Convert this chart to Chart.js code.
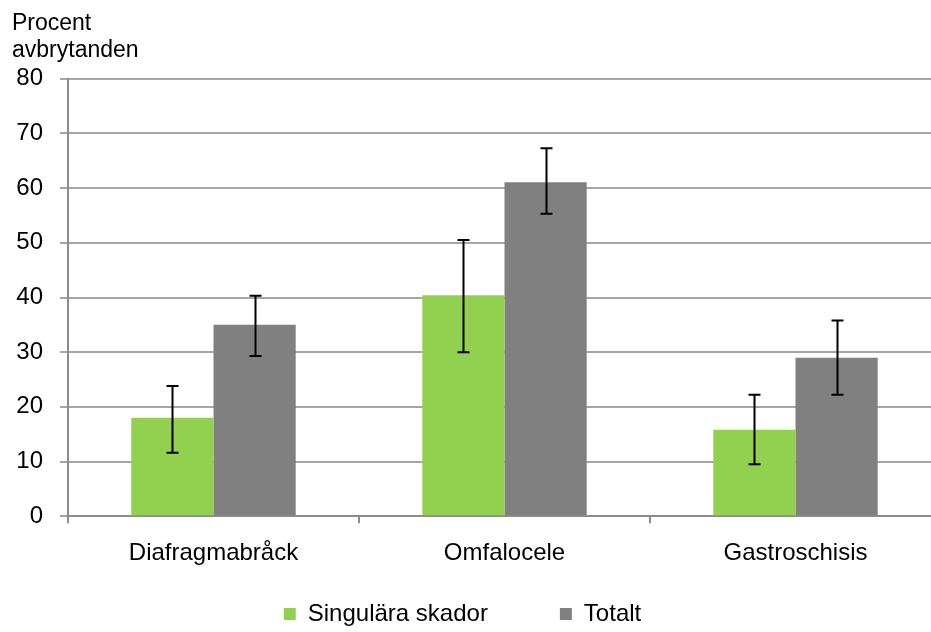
<!DOCTYPE html>
<html>
<head>
<meta charset="utf-8">
<script src="https://cdn.jsdelivr.net/npm/chart.js@4.4.1/dist/chart.umd.min.js"></script>
<style>
  html, body { margin: 0; padding: 0; background: #fff; }
  #wrap { width: 931px; height: 632px; }
</style>
</head>
<body>
<div id="wrap"><canvas id="chart"></canvas></div>
<script>
const categories = ['Diafragmabråck', 'Omfalocele', 'Gastroschisis'];
const seriesNames = ['Singulära skador', 'Totalt'];

const singular = [18, 40.4, 15.8];
const singularLow = [11.6, 30, 9.5];
const singularHigh = [23.8, 50.5, 22.2];

const total = [35, 61.1, 29];
const totalLow = [29.3, 55.3, 22.2];
const totalHigh = [40.3, 67.3, 35.8];

const yTicks = [0, 10, 20, 30, 40, 50, 60, 70, 80];

const font = 'Liberation Sans, Arial, sans-serif';
const legendGap = 72;

// draws the confidence intervals on top of the bars
const errorBars = {
    id: 'errorBars',
    afterDatasetsDraw(chart) {
        const ctx = chart.ctx;
        const y = chart.scales.y;
        ctx.save();
        ctx.strokeStyle = '#000';
        ctx.lineWidth = 2;
        chart.data.datasets.forEach((ds, di) => {
            const meta = chart.getDatasetMeta(di);
            meta.data.forEach((bar, i) => {
                const top = y.getPixelForValue(ds.errHigh[i]);
                const bottom = y.getPixelForValue(ds.errLow[i]);
                const x = Math.round(bar.x) + 0.5;
                ctx.beginPath();
                ctx.moveTo(x, top);
                ctx.lineTo(x, bottom);
                ctx.moveTo(x - 6, top);
                ctx.lineTo(x + 6, top);
                ctx.moveTo(x - 6, bottom);
                ctx.lineTo(x + 6, bottom);
                ctx.stroke();
            });
        });
        ctx.restore();
    }
};

// wide gap between legend items without the tall box that padding gives
const legendSpacing = {
    id: 'legendSpacing',
    afterInit(chart) {
        const legend = chart.legend;
        const fit = legend.fit;
        legend.fit = function () {
            fit.call(this);
            this.height = 48;
        };
        const draw = legend.draw;
        legend.draw = function (area) {
            const t = this.top, l = this.left, r = this.right;
            this.top = t - 54;
            this.left = l - 9;
            this.right = r - 9;
            draw.call(this, area);
            this.top = t;
            this.left = l;
            this.right = r;
        };
    }
};

// the plot area runs a little past the right edge of the picture
const plotOverflow = {
    id: 'plotOverflow',
    afterLayout(chart) {
        const extra = 10;
        const x = chart.scales.x;
        chart.chartArea.right += extra;
        chart.chartArea.width += extra;
        x.right += extra;
        x.width += extra;
        x.configure();
    }
};

new Chart(document.getElementById('chart'), {
    type: 'bar',
    data: {
        labels: categories,
        datasets: [
            {
                label: seriesNames[0],
                data: singular,
                errLow: singularLow,
                errHigh: singularHigh,
                backgroundColor: '#92D050',
                categoryPercentage: 0.565,
                barPercentage: 1
            },
            {
                label: seriesNames[1],
                data: total,
                errLow: totalLow,
                errHigh: totalHigh,
                backgroundColor: '#808080',
                categoryPercentage: 0.565,
                barPercentage: 1
            }
        ]
    },
    options: {
        responsive: true,
        maintainAspectRatio: false,
        animation: false,
        layout: { padding: { left: 12, right: 0, top: 0, bottom: 0 } },
        plugins: {
            tooltip: { enabled: false },
            title: {
                display: true,
                text: ['Procent', 'avbrytanden'],
                align: 'start',
                color: '#000',
                font: { family: font, size: 23, weight: 'normal', lineHeight: 1.17 },
                padding: { top: 10, bottom: 15 }
            },
            legend: {
                position: 'bottom',
                labels: {
                    color: '#000',
                    font: { family: font, size: 24 },
                    boxWidth: 12,
                    boxHeight: 12,
                    padding: legendGap
                }
            }
        },
        scales: {
            x: {
                grid: {
                    display: true,
                    drawOnChartArea: false,
                    drawTicks: true,
                    tickLength: 7,
                    color: '#8c8c8c',
                    lineWidth: 2
                },
                border: { display: true, color: '#8c8c8c', width: 2 },
                ticks: {
                    color: '#000',
                    font: { family: font, size: 24 },
                    padding: 16
                }
            },
            y: {
                min: 0,
                max: 80,
                afterFit(scale) { scale.width = 56; },
                afterBuildTicks(scale) { scale.ticks = yTicks.map(v => ({ value: v })); },
                grid: {
                    color: '#a6a6a6',
                    lineWidth: 2,
                    tickLength: 8
                },
                border: { display: true, color: '#8c8c8c', width: 2 },
                ticks: {
                    color: '#000',
                    font: { family: font, size: 24 },
                    padding: 17
                }
            }
        }
    },
    plugins: [errorBars, legendSpacing, plotOverflow]
});
</script>
</body>
</html>
